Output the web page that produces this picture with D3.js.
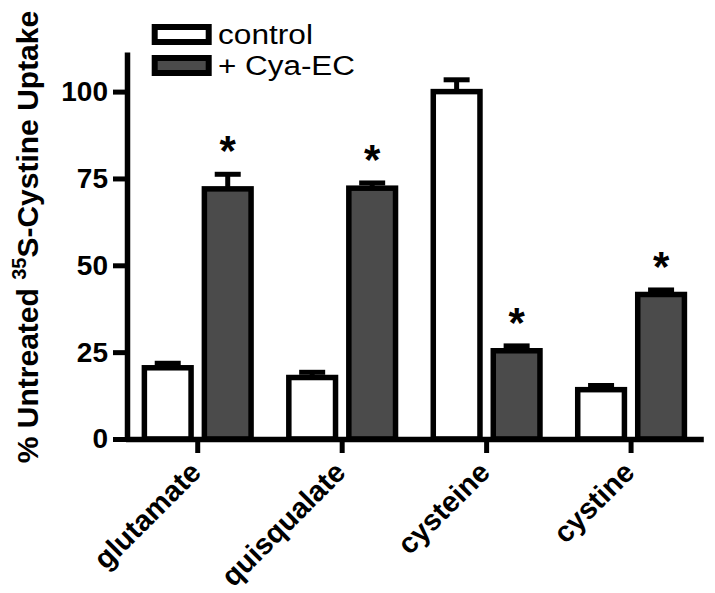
<!DOCTYPE html>
<html>
<head>
<meta charset="utf-8">
<script src="https://cdn.jsdelivr.net/npm/d3@7"></script>
<style>
  html, body { margin: 0; padding: 0; background: #fff; }
  svg { display: block; }
  text { font-family: "Liberation Sans", Arial, Helvetica, sans-serif; fill: #000; }
</style>
</head>
<body>
<svg id="chart" width="715" height="593"></svg>
<script>
// ---- data ----
const categories = ["glutamate", "quisqualate", "cysteine", "cystine"];
const seriesNames = ["control", "+ Cya-EC"];
const controlValues = [20.5, 17.7, 100, 14.2];
const controlErrors = [1.3, 1.5, 3.4, 1.2];
const cyaValues = [72, 72.2, 25.4, 41.6];
const cyaErrors = [4.2, 1.5, 1.4, 1.3];
const cyaSignificant = [true, true, true, true];
const yTicks = [0, 25, 50, 75, 100];
const yLabelParts = ["% Untreated  ", "35", "S-Cystine Uptake"];

// ---- layout ----
const svg = d3.select("#chart");
const axisX = 127, baseY = 439, topY = 52;
const seriesFill = ["#ffffff", "#4b4b4b"];

const x = d3.scaleBand().domain(categories).range([125.5, 703.3]).padding(0);
const x1 = d3.scalePoint().domain(seriesNames).range([-30, 30]);
const y = d3.scaleLinear().domain([0, 111.4]).range([baseY, topY]);
const barW = 46.7, lw = 5.5;

const rows = [];
categories.forEach((c, i) => {
  rows.push({cat: c, s: seriesNames[0], si: 0, v: controlValues[i], e: controlErrors[i], sig: false});
  rows.push({cat: c, s: seriesNames[1], si: 1, v: cyaValues[i], e: cyaErrors[i], sig: cyaSignificant[i]});
});
const cx = d => x(d.cat) + x.bandwidth() / 2 + x1(d.s);

// error bars (behind bars)
const eb = svg.append("g");
eb.selectAll("line.stem").data(rows).join("line")
  .attr("x1", cx).attr("x2", cx)
  .attr("y1", d => y(d.v)).attr("y2", d => y(d.v + d.e))
  .attr("stroke", "#000").attr("stroke-width", 5);
eb.selectAll("line.cap").data(rows).join("line")
  .attr("x1", d => cx(d) - 13).attr("x2", d => cx(d) + 13)
  .attr("y1", d => y(d.v + d.e)).attr("y2", d => y(d.v + d.e))
  .attr("stroke", "#000").attr("stroke-width", 5);

// bars
svg.append("g").selectAll("rect").data(rows).join("rect")
  .attr("x", d => cx(d) - barW / 2)
  .attr("width", barW)
  .attr("y", d => y(d.v))
  .attr("height", d => y(0) - y(d.v))
  .attr("fill", d => seriesFill[d.si])
  .attr("stroke", "#000").attr("stroke-width", lw);

// asterisks
svg.append("g").selectAll("text").data(rows.filter(d => d.sig)).join("text")
  .attr("x", cx)
  .attr("y", d => y(d.v + d.e) - 34 + 25)
  .attr("text-anchor", "middle")
  .attr("font-size", 42).attr("font-weight", "bold")
  .text("*");

// y axis
const gy = svg.append("g").attr("transform", `translate(${axisX},0)`)
  .call(d3.axisLeft(y).tickValues(yTicks).tickSize(14).tickSizeOuter(0).tickPadding(5));
gy.select(".domain").attr("stroke-width", lw);
gy.selectAll(".tick line").attr("stroke-width", 5);
gy.selectAll(".tick text").attr("font-size", 28).attr("font-weight", "bold")
  .attr("font-family", "Liberation Sans, Arial, sans-serif").attr("fill", "#000");

// x axis
const gx = svg.append("g").attr("transform", `translate(0,${baseY})`)
  .call(d3.axisBottom(x).tickSize(14).tickSizeOuter(0));
gx.select(".domain").attr("stroke-width", lw);
gx.selectAll(".tick line").attr("stroke-width", 5);
gx.selectAll(".tick text")
  .attr("font-size", 29).attr("font-weight", "bold")
  .attr("font-family", "Liberation Sans, Arial, sans-serif").attr("fill", "#000")
  .attr("x", 0).attr("y", 0).attr("dy", 0)
  .attr("text-anchor", "end")
  .attr("transform", "translate(5,35) rotate(-45)");

// y label
const yl = svg.append("text")
  .attr("transform", "translate(38,237) rotate(-90)")
  .attr("text-anchor", "middle")
  .attr("font-size", 30).attr("font-weight", "bold");
yl.append("tspan").text(yLabelParts[0]);
yl.append("tspan").attr("font-size", 20).attr("dy", -12).text(yLabelParts[1]);
yl.append("tspan").attr("dy", 12).text(yLabelParts[2]);

// legend
const leg = svg.append("g");
const legW = [95, 137];
seriesNames.forEach((s, i) => {
  const ly = 27 + i * 31;
  leg.append("rect").attr("x", 154.7).attr("y", ly).attr("width", 54).attr("height", 15)
    .attr("fill", seriesFill[i]).attr("stroke", "#000").attr("stroke-width", 6);
  leg.append("text").attr("x", 218).attr("y", ly + 17).attr("font-size", 27)
    .attr("textLength", legW[i]).attr("lengthAdjust", "spacingAndGlyphs").text(s);
});
</script>
</body>
</html>
